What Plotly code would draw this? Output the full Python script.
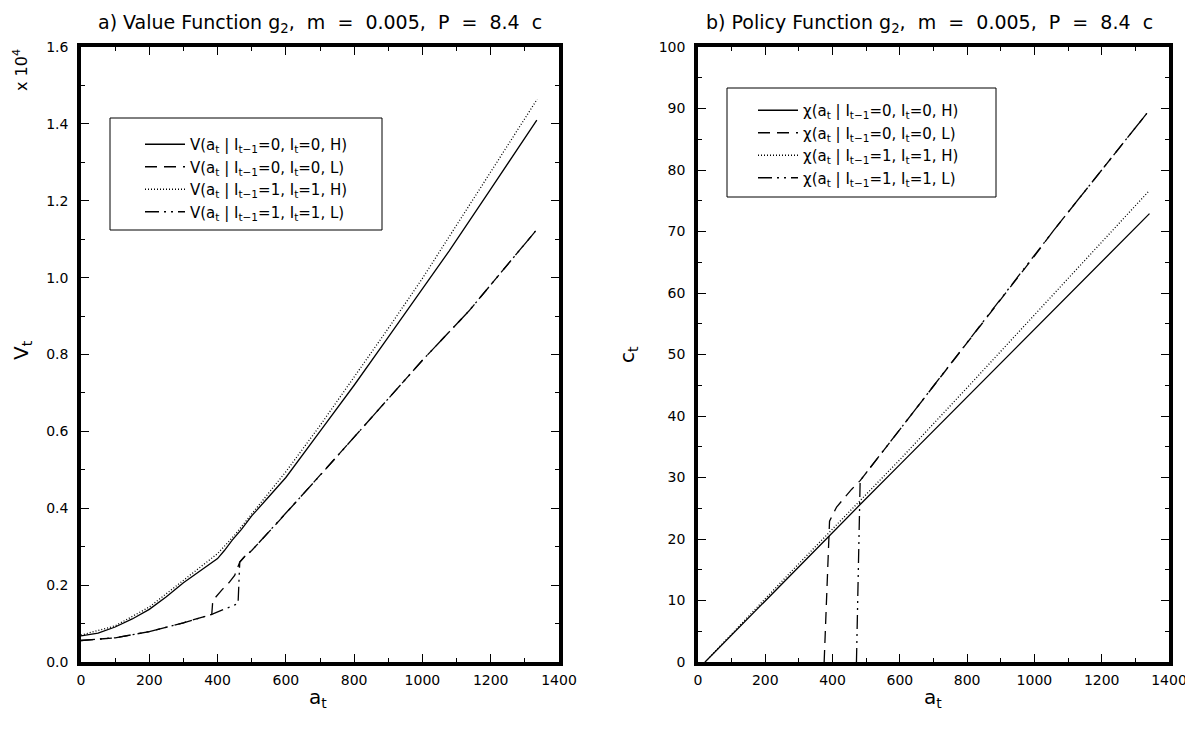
import plotly.graph_objects as go

# ---------------- data (left panel, values in units of 10^4) ----------------
a_vH0 = [0, 50, 100, 150, 200, 250, 300, 350, 400, 420, 443, 470, 500, 550, 600, 700, 800, 900, 1000, 1078, 1200, 1335]
v_vH0 = [0.068, 0.075, 0.091, 0.112, 0.137, 0.170, 0.206, 0.238, 0.269, 0.290, 0.317, 0.345, 0.380, 0.430, 0.480, 0.600, 0.720, 0.845, 0.970, 1.069, 1.230, 1.410]

a_vL0 = [0, 100, 200, 300, 383, 386, 414, 433, 450, 465, 480, 500, 580, 700, 800, 900, 1000, 1136, 1333]
v_vL0 = [0.056, 0.063, 0.079, 0.102, 0.124, 0.160, 0.189, 0.206, 0.225, 0.260, 0.275, 0.290, 0.367, 0.485, 0.585, 0.685, 0.785, 0.913, 1.123]

a_vH1 = [0, 100, 200, 300, 400, 450, 500, 600, 700, 800, 900, 1000, 1100, 1200, 1336]
v_vH1 = [0.070, 0.094, 0.143, 0.213, 0.282, 0.330, 0.385, 0.495, 0.615, 0.740, 0.868, 0.998, 1.135, 1.275, 1.464]

a_vL1 = [0, 100, 200, 300, 383, 420, 453, 460, 465, 480, 500, 580, 700, 800, 900, 1000, 1136, 1333]
v_vL1 = [0.056, 0.063, 0.079, 0.102, 0.124, 0.137, 0.150, 0.152, 0.260, 0.275, 0.290, 0.367, 0.485, 0.585, 0.685, 0.785, 0.913, 1.123]

# ---------------- data (right panel) ----------------
a_cH0 = [21, 100, 200, 300, 383, 482, 600, 800, 1000, 1200, 1342]
c_cH0 = [0.0, 4.4, 10.0, 15.6, 20.2, 25.6, 32.1, 43.1, 54.0, 65.1, 72.9]

a_cL0 = [375, 388, 391, 412, 457, 482, 600, 800, 1000, 1056, 1200, 1334]
c_cL0 = [0.0, 20.2, 22.9, 25.2, 28.1, 29.5, 37.8, 51.9, 66.0, 70.1, 80.0, 89.2]

a_cH1 = [21, 100, 200, 300, 383, 482, 600, 800, 1000, 1200, 1339]
c_cH1 = [0.0, 4.6, 10.3, 16.0, 20.7, 26.2, 32.9, 44.6, 56.4, 68.2, 76.5]

a_cL1 = [471, 476, 481, 482, 600, 800, 1000, 1056, 1200, 1334]
c_cL1 = [0.0, 15.0, 28.1, 29.5, 37.8, 51.9, 66.0, 70.1, 80.0, 89.2]

labels_V = [
    "V(a<sub>t</sub> | I<sub>t\u22121</sub>=0, I<sub>t</sub>=0, H)",
    "V(a<sub>t</sub> | I<sub>t\u22121</sub>=0, I<sub>t</sub>=0, L)",
    "V(a<sub>t</sub> | I<sub>t\u22121</sub>=1, I<sub>t</sub>=1, H)",
    "V(a<sub>t</sub> | I<sub>t\u22121</sub>=1, I<sub>t</sub>=1, L)",
]
labels_C = [
    "\u03c7(a<sub>t</sub> | I<sub>t\u22121</sub>=0, I<sub>t</sub>=0, H)",
    "\u03c7(a<sub>t</sub> | I<sub>t\u22121</sub>=0, I<sub>t</sub>=0, L)",
    "\u03c7(a<sub>t</sub> | I<sub>t\u22121</sub>=1, I<sub>t</sub>=1, H)",
    "\u03c7(a<sub>t</sub> | I<sub>t\u22121</sub>=1, I<sub>t</sub>=1, L)",
]

dashes = ["solid", "12px,7px", "1px,2px", "14px,5px,2px,5px,2px,5px"]

# the page body has an 8px margin, so the figure is laid out in page pixels minus 8
OFF = 8
W, H = 1193 - OFF, 729 - OFF
MT = 47 - OFF
MB = H - (662 - OFF)
PH = H - MT - MB
FAM = "DejaVu Sans, Liberation Sans, sans-serif"

def px(x):
    return (x - OFF) / W

def py(y):
    return (H - MB - (y - OFF)) / PH

fig = go.Figure()

left = [(a_vH0, v_vH0), (a_vL0, v_vL0), (a_vH1, v_vH1), (a_vL1, v_vL1)]
right = [(a_cH0, c_cH0), (a_cL0, c_cL0), (a_cH1, c_cH1), (a_cL1, c_cL1)]

for i, (xa, ya) in enumerate(left):
    fig.add_trace(go.Scatter(x=xa, y=ya, mode="lines", name=labels_V[i],
                             line=dict(color="black", width=1.3, dash=dashes[i]),
                             xaxis="x", yaxis="y", legend="legend"))
for i, (xa, ya) in enumerate(right):
    fig.add_trace(go.Scatter(x=xa, y=ya, mode="lines", name=labels_C[i],
                             line=dict(color="black", width=1.3, dash=dashes[i]),
                             xaxis="x2", yaxis="y2", legend="legend2"))

font_tick = dict(family=FAM, size=14, color="black")

axis_common = dict(showline=True, linewidth=3.5, linecolor="black", mirror="ticks",
                   ticks="inside", ticklen=8, tickwidth=1.2, tickcolor="black",
                   showgrid=False, zeroline=False, tickfont=font_tick,
                   automargin=False, layer="above traces")

fig.update_layout(
    width=W, height=H,
    margin=dict(l=0, r=0, t=MT, b=MB, autoexpand=False),
    paper_bgcolor="white", plot_bgcolor="white",
    showlegend=True,
    xaxis=dict(domain=[px(81), px(559)], range=[0, 1400], dtick=200, tick0=0, ticklabelstandoff=2,
               minor=dict(dtick=100, ticks="inside", ticklen=4, tickcolor="black"),
               anchor="y", **axis_common),
    yaxis=dict(domain=[0, 1], range=[0, 1.6], dtick=0.2, tick0=0, tickformat=".1f", ticklabelstandoff=6,
               minor=dict(dtick=0.1, ticks="inside", ticklen=4, tickcolor="black"),
               anchor="x", **axis_common),
    xaxis2=dict(domain=[px(698), px(1169)], range=[0, 1400], dtick=200, tick0=0, ticklabelstandoff=2,
                minor=dict(dtick=100, ticks="inside", ticklen=4, tickcolor="black"),
                anchor="y2", **axis_common),
    yaxis2=dict(domain=[0, 1], range=[0, 100], dtick=10, tick0=0, ticklabelstandoff=6,
                minor=dict(dtick=5, ticks="inside", ticklen=4, tickcolor="black"),
                anchor="x2", **axis_common),
    legend=dict(x=px(140), y=py(128), xanchor="left", yanchor="top",
                bgcolor="rgba(0,0,0,0)", borderwidth=0,
                font=dict(family=FAM, size=15, color="black"),
                tracegroupgap=0, itemwidth=40),
    legend2=dict(x=px(753), y=py(94), xanchor="left", yanchor="top",
                 bgcolor="rgba(0,0,0,0)", borderwidth=0,
                 font=dict(family=FAM, size=15, color="black"),
                 tracegroupgap=0, itemwidth=40),
    shapes=[
        dict(type="rect", xref="paper", yref="paper", x0=px(110), x1=px(382), y0=py(230), y1=py(118),
             line=dict(color="black", width=1), fillcolor="white", layer="below"),
        dict(type="rect", xref="paper", yref="paper", x0=px(727), x1=px(996), y0=py(197), y1=py(88),
             line=dict(color="black", width=1), fillcolor="white", layer="below"),
    ],
)

ann_font = dict(family=FAM, size=20, color="black")
title_font = dict(family=FAM, size=19, color="black")

annotations = [
    dict(text="a) Value Function g<sub>2</sub>,  m  =  0.005,  P  =  8.4  c", x=px(320), y=py(9),
         font=title_font, yanchor="top"),
    dict(text="b) Policy Function g<sub>2</sub>,  m  =  0.005,  P  =  8.4  c", x=px(929), y=py(9),
         font=title_font, yanchor="top"),
    dict(text="x 10<sup>4</sup>", x=px(21), y=py(70), textangle=-90,
         font=dict(family=FAM, size=16, color="black")),
    dict(text="V<sub>t</sub>", x=px(22), y=py(350), textangle=-90, font=ann_font),
    dict(text="c<sub>t</sub>", x=px(628), y=py(355), textangle=-90, font=ann_font),
    dict(text="a<sub>t</sub>", x=px(318), y=py(698), font=ann_font),
    dict(text="a<sub>t</sub>", x=px(933), y=py(698), font=ann_font),
]
for a in annotations:
    a.setdefault("yanchor", "middle")
    a.update(xref="paper", yref="paper", showarrow=False, xanchor="center")
fig.update_layout(annotations=annotations)

fig.write_html("out.html")
